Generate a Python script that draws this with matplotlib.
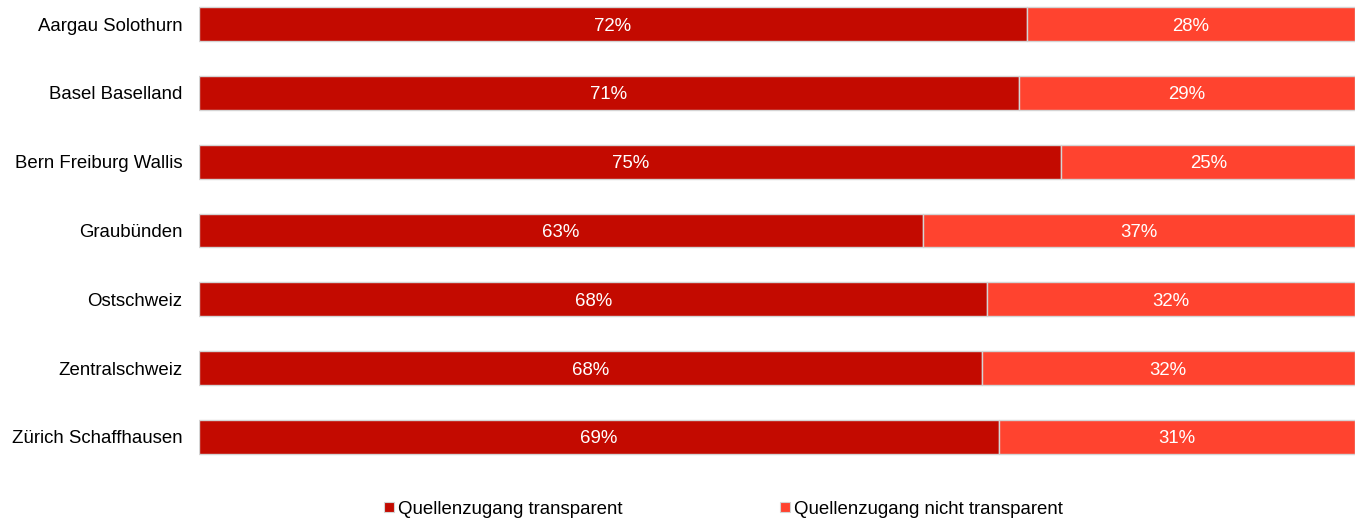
import matplotlib
matplotlib.use("Agg")
import matplotlib.pyplot as plt
from matplotlib.lines import Line2D

plt.rcParams['font.family'] = ['Liberation Sans', 'DejaVu Sans']

regions = ["Aargau Solothurn", "Basel Baselland", "Bern Freiburg Wallis",
           "Graubünden", "Ostschweiz", "Zentralschweiz", "Zürich Schaffhausen"]
transparent = [71.6, 70.9, 74.6, 62.6, 68.2, 67.7, 69.2]
not_transparent = [28.4, 29.1, 25.4, 37.4, 31.8, 32.3, 30.8]
series_names = ["Quellenzugang transparent", "Quellenzugang nicht transparent"]

c_dark = "#C30A00"
c_light = "#FF432F"
edge = "#D4D4D4"
fs = 13.4

fig = plt.figure(figsize=(13.59, 5.2), dpi=100)
ax = fig.add_axes([199 / 1359, 0.1135, (1355 - 199) / 1359, 0.8865])

ypos = list(range(len(regions)))
h = 0.49
ax.barh(ypos, transparent, height=h, color=c_dark, edgecolor=edge, linewidth=1)
ax.barh(ypos, not_transparent, left=transparent, height=h, color=c_light,
        edgecolor=edge, linewidth=1)

for y, a, b in zip(ypos, transparent, not_transparent):
    ax.text(a / 2, y, f"{round(a)}%", ha="center", va="center_baseline",
            color="white", fontsize=fs)
    ax.text(a + b / 2, y, f"{round(b)}%", ha="center", va="center_baseline",
            color="white", fontsize=fs)

ax.set_xlim(0, 100)
ax.set_ylim(6.35, -0.35)
ax.set_yticks(ypos)
ax.set_yticklabels(regions, fontsize=fs)
ax.tick_params(axis="y", length=0, pad=12)
ax.set_xticks([])
for s in ax.spines.values():
    s.set_visible(False)

handles = [Line2D([], [], marker="s", linestyle="none", markersize=7,
                  markerfacecolor=c, markeredgecolor=edge, markeredgewidth=0.8)
           for c in (c_dark, c_light)]
fig.legend(handles, series_names, loc="center", bbox_to_anchor=(0.532, 0.021),
           ncol=2, frameon=False, fontsize=fs, handlelength=0.6,
           handletextpad=0.2, columnspacing=8.4)

fig.savefig("out.png", dpi=100)
